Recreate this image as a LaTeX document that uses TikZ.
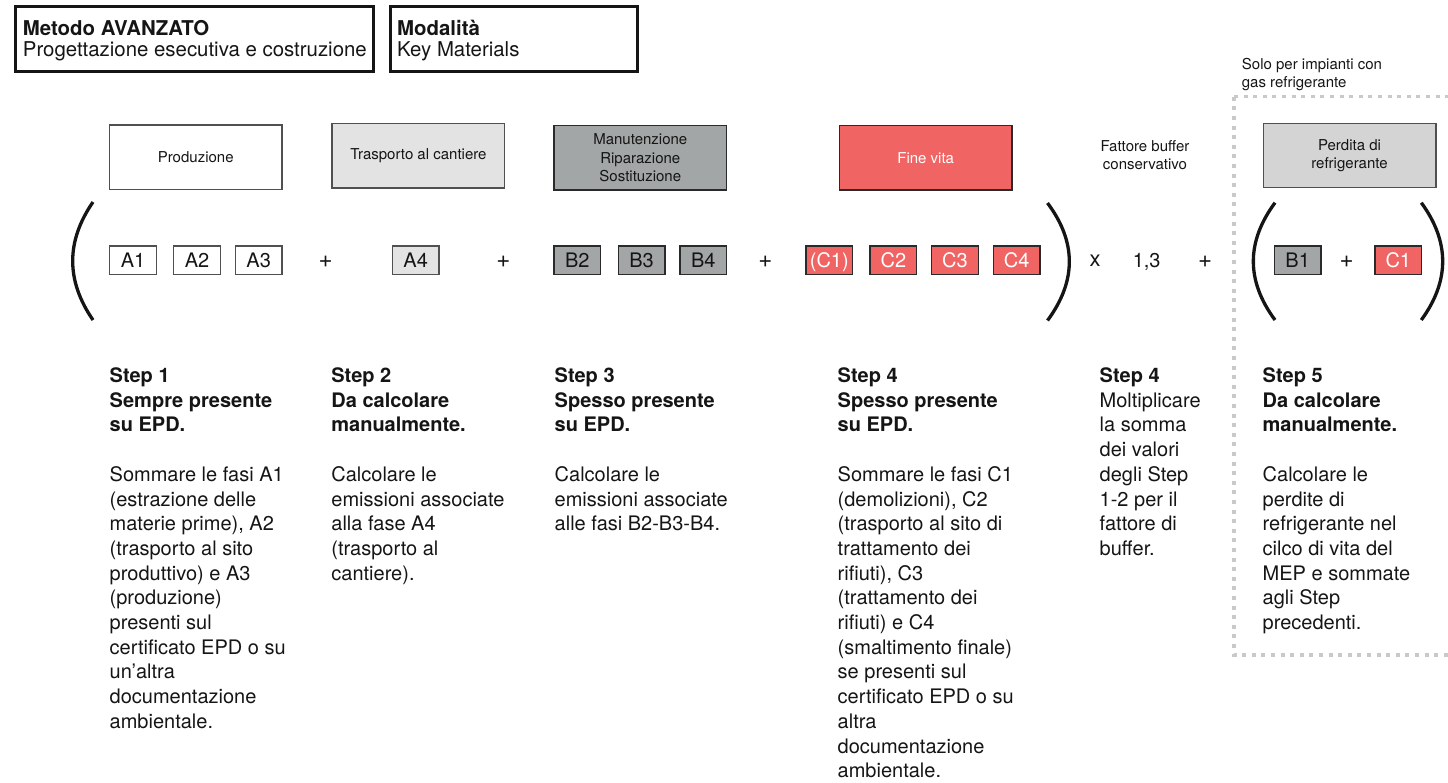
\documentclass[tikz,border=0pt]{standalone}
\usepackage{fontspec}
\setmainfont{TeX Gyre Heros}
\definecolor{ink}{HTML}{151515}
\definecolor{edge}{HTML}{505050}
\definecolor{darkedge}{HTML}{2A2A2A}
\definecolor{paleA}{HTML}{E3E3E3}
\definecolor{greyB}{HTML}{A3A6A6}
\definecolor{redC}{HTML}{F06464}
\definecolor{paleR}{HTML}{D3D4D3}
\definecolor{dotgrey}{HTML}{C9C9C9}
\newcommand\lblfnt{\fontsize{15}{18.5}\selectfont}
\newcommand\modfnt{\fontsize{20}{24}\selectfont}
\newcommand\opfnt{\fontsize{24}{28}\selectfont}
\newcommand\bodyfnt{\fontsize{20}{24.7}\selectfont}
\newcommand\headfnt{\fontsize{20.4}{21.7}\selectfont}
\begin{document}
\begin{tikzpicture}[x=1pt,y=-1pt,
  phase/.style={draw=edge, line width=1.3pt, minimum width=172.7pt, minimum height=64.5pt,
    inner sep=0pt, align=center, font=\lblfnt, text=ink},
  module/.style={draw=edge, line width=1.3pt, minimum width=46.7pt, minimum height=28.4pt,
    inner sep=0pt, font=\modfnt, text height=14.4pt, text depth=0pt, text=ink},
  op/.style={inner sep=0pt, font=\modfnt, text height=14.4pt, text depth=0pt, text=ink},
  plus/.style={inner sep=0pt, font=\opfnt, text=ink},
  paren/.style={draw=ink, line width=3.3pt},
  headbox/.style={draw=ink, line width=3.3pt, inner sep=0pt, anchor=north west},
  notes/.style={anchor=base west, inner sep=0pt, text=ink},
  dotframe/.style={draw=dotgrey, line width=3.3pt, dash pattern=on 4pt off 5.6pt}
]
\useasboundingbox (0,0) rectangle (1448,782);

% header boxes
\node[headbox, minimum width=358.5pt, minimum height=65pt] (metodo) at (13.5,4.5) {};
\node[notes, font=\headfnt] (metodotxt) at (22.7,35)
  {\parbox[t]{400pt}{\textbf{Metodo AVANZATO}\\Progettazione esecutiva e costruzione}};
\node[headbox, minimum width=247.5pt, minimum height=65pt] (modal) at (388.5,4.5) {};
\node[notes, font=\headfnt] (modaltxt) at (397,35)
  {\parbox[t]{300pt}{\textbf{Modalità}\\Key Materials}};

% phase labels
\node[phase] (prod) at (195.7,157.2) {Produzione};
\node[phase, fill=paleA] (trasp) at (418.4,155.8) {Trasporto al cantiere};
\node[phase, fill=greyB, draw=darkedge] (manut) at (640.3,157.8) {Manutenzione\\Riparazione\\Sostituzione};
\node[phase, fill=redC, draw=darkedge, text=white] (fine) at (925.7,157.8) {Fine vita};
\node[font=\lblfnt, align=center, text=ink, inner sep=0pt] (buffer) at (1145,155) {Fattore buffer\\conservativo};
\node[phase, fill=paleR] (perdita) at (1349.5,155.5) {Perdita di\\refrigerante};
\node[notes, font=\lblfnt] (solo) at (1241.7,69)
  {\parbox[t]{200pt}{Solo per impianti con\\gas refrigerante}};

% refrigerant frame
\draw[dotframe] (1234,96.7) -- (1448,96.7);
\draw[dotframe] (1234,96.7) -- (1234,655) -- (1448,655);

% formula row
\node[module] (a1) at (133,260.2) {A1};
\node[module] (a2) at (197,260.2) {A2};
\node[module] (a3) at (258.7,260.2) {A3};
\node[plus] (p1) at (325.7,261.5) {+};
\node[module, fill=paleA] (a4) at (415.7,260.2) {A4};
\node[plus] (p2) at (503.3,261.5) {+};
\node[module, fill=greyB, draw=darkedge] (b2) at (577.3,260.2) {B2};
\node[module, fill=greyB, draw=darkedge] (b3) at (641.5,260.2) {B3};
\node[module, fill=greyB, draw=darkedge] (b4) at (703.3,260.2) {B4};
\node[plus] (p3) at (765.3,261.5) {+};
\node[module, fill=redC, draw=darkedge, text=white] (c1opt) at (829.3,260.2) {(C1)};
\node[module, fill=redC, draw=darkedge, text=white] (c2) at (893.4,260.2) {C2};
\node[module, fill=redC, draw=darkedge, text=white] (c3) at (955,260.2) {C3};
\node[module, fill=redC, draw=darkedge, text=white] (c4) at (1016.7,260.2) {C4};
\node[plus, font=\fontsize{22}{26}\selectfont] (times) at (1095,260.5) {x};
\node[op] (factor) at (1146.7,260.2) {1,3};
\node[plus] (p4) at (1205,261.5) {+};
\node[module, fill=greyB, draw=darkedge] (b1) at (1297.7,260.2) {B1};
\node[plus] (p5) at (1346.7,261.5) {+};
\node[module, fill=redC, draw=darkedge, text=white] (c1) at (1398.3,260.2) {C1};

% brackets
\draw[paren] (93,202) .. controls (65.9,241.3) and (65.9,280.7) .. (93,320);
\draw[paren] (1047.5,203) .. controls (1076.6,242) and (1076.6,281) .. (1047.5,320.5);
\draw[paren] (1275,202.7) .. controls (1246.1,241.8) and (1246.1,280.9) .. (1275,320);
\draw[paren] (1421.3,202.7) .. controls (1449.8,241.8) and (1449.8,280.9) .. (1421.3,320);

% step descriptions
\node[notes, font=\bodyfnt] (s1) at (109.5,382.5) {\parbox[t]{240pt}{%
  \textbf{Step 1}\\\textbf{Sempre presente}\\\textbf{su EPD.}\\[24.7pt]%
  Sommare le fasi A1\\(estrazione delle\\materie prime), A2\\(trasporto al sito\\produttivo) e A3\\%
  (produzione)\\presenti sul\\certificato EPD o su\\un’altra\\documentazione\\ambientale.}};
\node[notes, font=\bodyfnt] (s2) at (331.2,382.5) {\parbox[t]{240pt}{%
  \textbf{Step 2}\\\textbf{Da calcolare}\\\textbf{manualmente.}\\[24.7pt]%
  Calcolare le\\emissioni associate\\alla fase A4\\(trasporto al\\cantiere).}};
\node[notes, font=\bodyfnt] (s3) at (554.5,382.5) {\parbox[t]{240pt}{%
  \textbf{Step 3}\\\textbf{Spesso presente}\\\textbf{su EPD.}\\[24.7pt]%
  Calcolare le\\emissioni associate\\alle fasi B2-B3-B4.}};
\node[notes, font=\bodyfnt] (s4) at (837.5,382.5) {\parbox[t]{240pt}{%
  \textbf{Step 4}\\\textbf{Spesso presente}\\\textbf{su EPD.}\\[24.7pt]%
  Sommare le fasi C1\\(demolizioni), C2\\(trasporto al sito di\\trattamento dei\\rifiuti), C3\\%
  (trattamento dei\\rifiuti) e C4\\(smaltimento finale)\\se presenti sul\\certificato EPD o su\\%
  altra\\documentazione\\ambientale.}};
\node[notes, font=\bodyfnt] (s4b) at (1099.5,382.5) {\parbox[t]{200pt}{%
  \textbf{Step 4}\\Moltiplicare\\la somma\\dei valori\\degli Step\\1-2 per il\\fattore di\\buffer.}};
\node[notes, font=\bodyfnt] (s5) at (1262.5,382.5) {\parbox[t]{200pt}{%
  \textbf{Step 5}\\\textbf{Da calcolare}\\\textbf{manualmente.}\\[24.7pt]%
  Calcolare le\\perdite di\\refrigerante nel\\cilco di vita del\\MEP e sommate\\agli Step\\precedenti.}};
\end{tikzpicture}
\end{document}
